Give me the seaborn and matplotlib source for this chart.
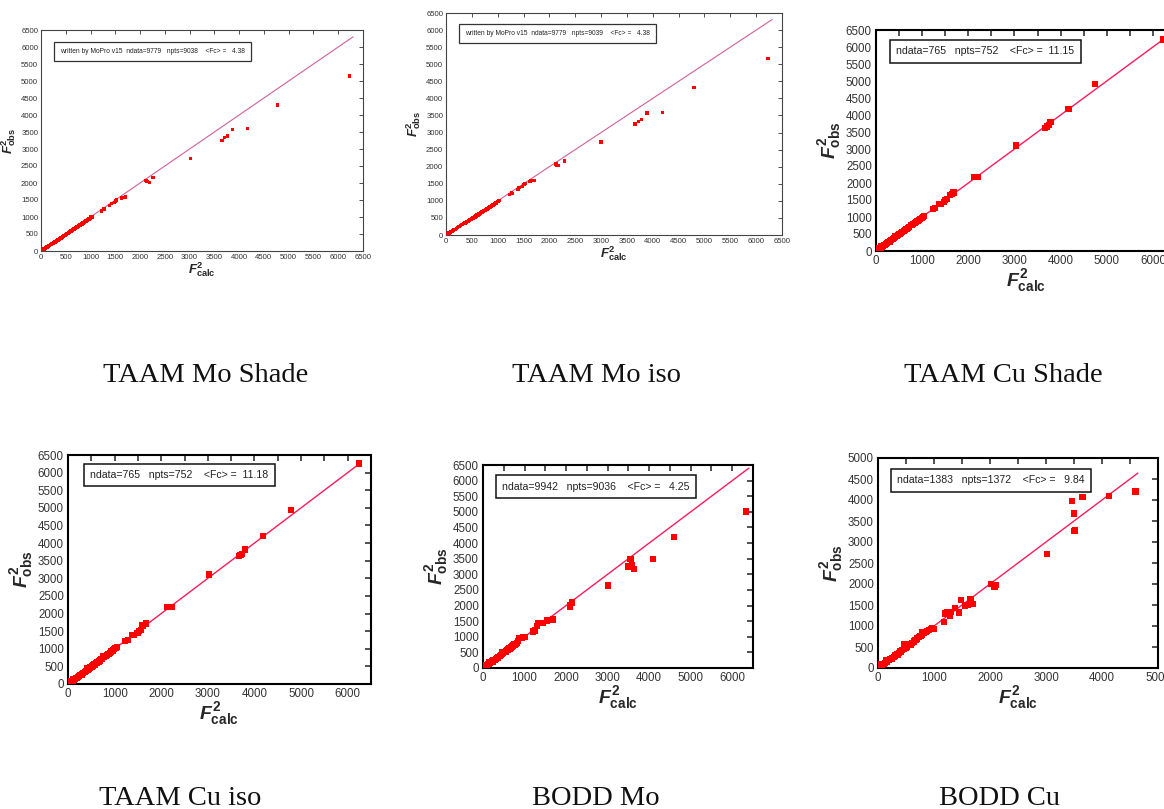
import matplotlib
matplotlib.use("Agg")
import matplotlib.pyplot as plt
import seaborn as sns
import numpy as np
from matplotlib.ticker import MultipleLocator

# ---------------- data (F2calc, F2obs) ----------------
mo_shade_x = [5, 20, 40, 60, 80, 100, 125, 150, 175, 200, 225, 250, 280, 310, 340, 370, 400, 430, 460, 490,
              520, 550, 580, 610, 640, 670, 700, 730, 760, 790, 820, 850, 880, 910, 940, 970, 1000, 1030,
              560, 590, 720, 760, 830, 1010,
              1220, 1270, 1280, 1380, 1420, 1480, 1500, 1530, 1620, 1640, 1700, 2120, 2140, 2190, 2260,
              3020, 3650, 3700, 3760, 3860, 4170, 4780, 6230]
mo_shade_y = [4, 19, 38, 57, 77, 96, 120, 145, 169, 193, 217, 241, 270, 299, 328, 357, 386, 415, 444, 473,
              502, 531, 560, 590, 618, 647, 676, 705, 734, 763, 792, 821, 850, 879, 908, 937, 967, 1005,
              545, 600, 720, 740, 790, 1020,
              1180, 1230, 1250, 1340, 1390, 1420, 1470, 1500, 1560, 1580, 1590, 2080, 2050, 2020, 2160,
              2720, 3250, 3340, 3380, 3570, 3600, 4290, 5150]
mo_shade_text = "written by MoPro v15  ndata=9779   npts=9038    <Fc> =   4.38"

mo_iso_x = [5, 20, 40, 60, 80, 100, 125, 150, 175, 200, 225, 250, 280, 310, 340, 370, 400, 430, 460, 490,
            520, 550, 580, 610, 640, 670, 700, 730, 760, 790, 820, 850, 880, 910, 940, 970, 1000, 1040,
            570, 600, 620, 760, 840, 1020,
            1230, 1270, 1280, 1390, 1410, 1480, 1510, 1530, 1610, 1630, 1700, 2130, 2140, 2180, 2290,
            3000, 3660, 3720, 3780, 3890, 4190, 4800, 6230]
mo_iso_y = [4, 19, 38, 57, 77, 96, 120, 145, 169, 193, 217, 241, 270, 299, 328, 357, 386, 415, 444, 473,
            502, 531, 560, 590, 618, 647, 676, 705, 734, 763, 792, 821, 850, 879, 908, 937, 975, 1010,
            530, 600, 590, 750, 800, 1000,
            1190, 1250, 1220, 1330, 1390, 1420, 1480, 1500, 1560, 1580, 1590, 2080, 2050, 2030, 2170,
            2720, 3250, 3330, 3390, 3570, 3590, 4310, 5160]
mo_iso_text = "written by MoPro v15  ndata=9779   npts=9039    <Fc> =   4.38"

cu_shade_x = [5, 25, 50, 75, 100, 125, 150, 180, 210, 240, 270, 300, 330, 360, 390, 420, 450, 480, 510, 540,
              570, 600, 630, 660, 690, 720, 750, 780, 810, 840, 870, 900, 930, 960, 990, 1020, 1040,
              60, 120, 200, 300, 420, 520,
              1230, 1270, 1370, 1400, 1480, 1500, 1530, 1600, 1650, 1680, 2120, 2160, 2200,
              3040, 3660, 3700, 3740, 3780, 4170, 4740, 6230]
cu_shade_y = [5, 22, 45, 70, 95, 118, 143, 172, 202, 230, 260, 290, 318, 348, 378, 408, 436, 466, 495, 525,
              555, 585, 612, 640, 670, 700, 760, 770, 790, 820, 850, 880, 912, 942, 975, 1010, 1040,
              90, 150, 180, 270, 450, 500,
              1230, 1260, 1380, 1390, 1450, 1500, 1520, 1650, 1680, 1720, 2170, 2170, 2170,
              3100, 3620, 3660, 3700, 3800, 4170, 4920, 6220]
cu_shade_text = "ndata=765   npts=752    <Fc> =  11.15"

cu_iso_x = [5, 25, 50, 75, 100, 125, 150, 180, 210, 240, 270, 300, 330, 360, 390, 420, 450, 480, 510, 540,
            570, 600, 630, 660, 690, 720, 750, 780, 810, 840, 870, 900, 930, 960, 990, 1020, 1050,
            60, 120, 200, 300, 420, 520,
            1230, 1280, 1380, 1410, 1490, 1520, 1560, 1600, 1680, 2130, 2170, 2230,
            3030, 3670, 3700, 3740, 3790, 4180, 4780, 6250]
cu_iso_y = [5, 22, 45, 70, 95, 118, 143, 172, 202, 230, 260, 290, 318, 348, 378, 408, 436, 466, 495, 525,
            555, 585, 612, 640, 670, 700, 790, 770, 800, 830, 860, 890, 920, 950, 985, 1030, 1040,
            90, 150, 180, 270, 450, 500,
            1230, 1260, 1380, 1400, 1450, 1500, 1540, 1660, 1720, 2180, 2180, 2180,
            3110, 3630, 3660, 3700, 3820, 4190, 4950, 6260]
cu_iso_text = "ndata=765   npts=752    <Fc> =  11.18"

bodd_mo_x = [5, 25, 50, 75, 100, 130, 160, 190, 220, 250, 280, 310, 340, 370, 400, 430, 460, 490, 520, 550,
             580, 610, 640, 670, 700, 730, 760, 790, 820, 850, 880, 910, 940, 970, 1000,
             60, 150, 250, 350, 450, 560,
             1200, 1250, 1300, 1330, 1380, 1450, 1550, 1600, 1680, 2100, 2100, 2150,
             3000, 3500, 3550, 3580, 3640, 4100, 4600, 6330]
bodd_mo_y = [5, 20, 45, 70, 95, 122, 152, 180, 210, 240, 268, 298, 328, 358, 390, 420, 450, 480, 508, 540,
             570, 595, 625, 655, 690, 720, 750, 780, 810, 860, 950, 960, 965, 980, 1000,
             100, 190, 210, 310, 500, 520,
             1170, 1200, 1350, 1430, 1440, 1450, 1520, 1540, 1550, 2010, 1960, 2100,
             2640, 3250, 3480, 3280, 3160, 3500, 4190, 5010]
bodd_mo_text = "ndata=9942   npts=9036    <Fc> =   4.25"

bodd_cu_x = [5, 25, 50, 75, 100, 130, 160, 190, 220, 250, 280, 310, 340, 370, 400, 430, 460, 490, 520, 550,
             580, 610, 640, 670, 700, 730, 760, 790, 820, 850, 880, 910, 940, 970, 1000,
             60, 150, 250, 350, 470, 500, 780,
             1180, 1200, 1230, 1260, 1290, 1300, 1370, 1450, 1480, 1550, 1600, 1650, 1700,
             2020, 2080, 2080, 2100, 3020, 3470, 3500, 3510, 3520, 3650, 4120, 4600]
bodd_cu_y = [5, 20, 45, 70, 95, 125, 150, 185, 215, 240, 270, 300, 335, 360, 395, 420, 450, 480, 510, 540,
             560, 600, 630, 660, 700, 730, 760, 800, 830, 860, 880, 910, 935, 960, 930,
             100, 190, 210, 320, 580, 560, 860,
             1090, 1300, 1330, 1340, 1230, 1340, 1420, 1320, 1620, 1470, 1500, 1640, 1520,
             2000, 1950, 1930, 1970, 2710, 3970, 3680, 3270, 3280, 4070, 4100, 4200]
bodd_cu_text = "ndata=1383   npts=1372    <Fc> =   9.84"

line_ends = [6300, 6310, 6250, 6270, 6400, 4640]
captions = ["TAAM Mo Shade", "TAAM Mo iso", "TAAM Cu Shade", "TAAM Cu iso", "BODD Mo", "BODD Cu"]

# ---------------- styling ----------------
sns.set_theme(style="white")
plt.rcParams["font.family"] = ["Liberation Sans", "DejaVu Sans"]
plt.rcParams["mathtext.fontset"] = "custom"
plt.rcParams["mathtext.it"] = "Liberation Sans:italic:bold"
plt.rcParams["mathtext.rm"] = "Liberation Sans:bold"
plt.rcParams["mathtext.bf"] = "Liberation Sans:bold"

W, H = 1164, 809
fig = plt.figure(figsize=(W / 100, H / 100), dpi=100)


def rect(l, r, t, b):
    return [l / W, 1 - b / H, (r - l) / W, (b - t) / H]


panels = [
    dict(x=mo_shade_x, y=mo_shade_y, text=mo_shade_text, rect=rect(41, 363, 30, 251), old=True,
         lim=6500, tx=0.059, ty=0.903, cap=(206, 382), end=line_ends[0]),
    dict(x=mo_iso_x, y=mo_iso_y, text=mo_iso_text, rect=rect(446, 782, 13, 235), old=True,
         lim=6500, tx=0.057, ty=0.908, cap=(597, 382), end=line_ends[1]),
    dict(x=cu_shade_x, y=cu_shade_y, text=cu_shade_text, rect=rect(876, 1176, 30, 251), old=False,
         lim=6500, tx=0.067, ty=0.903, cap=(1003, 382), end=line_ends[2]),
    dict(x=cu_iso_x, y=cu_iso_y, text=cu_iso_text, rect=rect(68, 371, 455, 684), old=False,
         lim=6500, tx=0.073, ty=0.913, cap=(180, 805), end=line_ends[3]),
    dict(x=bodd_mo_x, y=bodd_mo_y, text=bodd_mo_text, rect=rect(483, 753, 465, 668), old=False,
         lim=6500, tx=0.07, ty=0.894, cap=(596, 805), end=line_ends[4]),
    dict(x=bodd_cu_x, y=bodd_cu_y, text=bodd_cu_text, rect=rect(878, 1158, 458, 668), old=False,
         lim=5000, tx=0.068, ty=0.893, cap=(1000, 805), end=line_ends[5]),
]

narrow = ["Liberation Sans Narrow", "Liberation Sans"]

for i, p in enumerate(panels):
    ax = fig.add_axes(p["rect"])
    old = p["old"]
    line_col = "#d0609a" if old else "#ff1a5a"
    sns.lineplot(x=[0, p["end"]], y=[0, p["end"]], ax=ax, color=line_col,
                 linewidth=0.8 if old else 1.0, zorder=2)
    sns.scatterplot(x=p["x"], y=p["y"], ax=ax, marker="s", color="#ff0000",
                    s=6 if old else 20, linewidth=0, edgecolor="none", zorder=3)
    ax.set_xlim(0, p["lim"])
    ax.set_ylim(0, p["lim"])
    if old:
        ax.xaxis.set_major_locator(MultipleLocator(500))
        ax.yaxis.set_major_locator(MultipleLocator(500))
        ax.tick_params(direction="in", top=True, right=True, length=3, width=0.6,
                       labelsize=5.6, colors="#333333", pad=2)
        for lab in ax.get_xticklabels() + ax.get_yticklabels():
            lab.set_family(narrow)
        for s in ax.spines.values():
            s.set_linewidth(0.8)
            s.set_color("#444444")
        ax.set_xlabel(r"$F^{2}_{\mathrm{calc}}$", fontsize=9.5, labelpad=0)
        ax.set_ylabel(r"$F^{2}_{\mathrm{obs}}$", fontsize=9.5, labelpad=2)
        ax.text(p["tx"], p["ty"], p["text"], transform=ax.transAxes, fontsize=4.8,
                family=narrow, va="center", ha="left", color="#222222",
                bbox=dict(boxstyle="square,pad=0.9", fc="white", ec="#333333", lw=0.9))
    else:
        ax.xaxis.set_major_locator(MultipleLocator(1000))
        ax.xaxis.set_minor_locator(MultipleLocator(500))
        ax.yaxis.set_major_locator(MultipleLocator(500))
        ax.tick_params(which="both", direction="in", top=True, right=True, length=4, width=1.1,
                       labelsize=8.3, labelcolor="#333333", color="#222222", pad=3)
        for s in ax.spines.values():
            s.set_linewidth(1.5)
            s.set_color("black")
        ax.set_xlabel(r"$F^{2}_{\mathrm{calc}}$", fontsize=14, labelpad=0)
        ax.set_ylabel(r"$F^{2}_{\mathrm{obs}}$", fontsize=14, labelpad=2)
        ax.text(p["tx"], p["ty"], p["text"], transform=ax.transAxes, fontsize=7.6,
                va="center", ha="left", color="#222222",
                bbox=dict(boxstyle="square,pad=0.6", fc="white", ec="#111111", lw=1.1))
    cx, cy = p["cap"]
    fig.text(cx / W, 1 - cy / H, captions[i], ha="center", va="baseline",
             family=["Liberation Serif", "DejaVu Serif"], fontsize=20.5, color="#111111")

fig.savefig("out.png", dpi=100)
